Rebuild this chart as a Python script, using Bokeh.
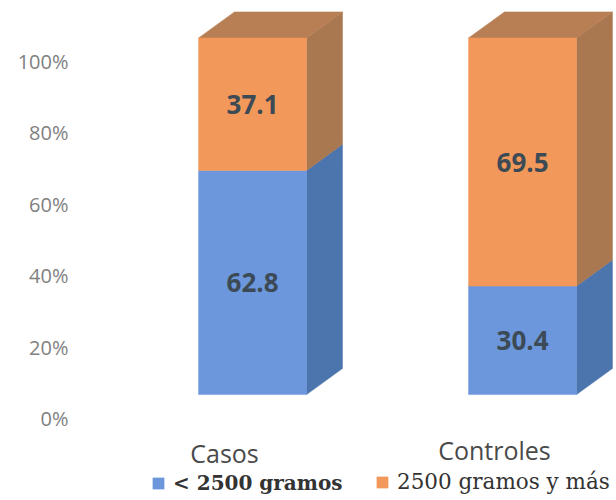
from bokeh.embed import file_html
from bokeh.models import FixedTicker, Legend, LegendItem, Range1d
from bokeh.plotting import figure
from bokeh.resources import INLINE

categories = ["Casos", "Controles"]
category_y = [-9.8, -8.8]
under_2500 = [62.8, 30.4]
over_2500 = [37.1, 69.5]
y_ticks = [0, 20, 40, 60, 80, 100]
y_labels = ["0%", "20%", "40%", "60%", "80%", "100%"]
series_names = ["< 2500 gramos", "2500 gramos y más"]

# Oblique projection of the columns, in data units
BAR_WIDTH = 0.4
BAR_SHIFT = 0.104
FLOOR = 6.7
DEPTH_X = 0.133
DEPTH_Y = 7.3

BLUE_FRONT, BLUE_SIDE = "#6c97dc", "#4c75ad"
ORANGE_FRONT, ORANGE_SIDE, ORANGE_TOP = "#f2985a", "#a97850", "#b87e54"
LABEL_COLOR = "#3c4a55"

p = figure(
    width=616, height=500, output_backend="svg", toolbar_location=None,
    min_border_left=72, min_border_right=0, min_border_top=0, min_border_bottom=0,
    x_range=Range1d(-0.563, 1.452), y_range=Range1d(-22.97, 117.09),
    outline_line_color=None, background_fill_color="white",
)
p.grid.visible = False
p.xaxis.visible = False


def face(xs, ys, color):
    return p.patch(xs, ys, fill_color=color, line_color=color, line_width=0.5)


def value_label(x, y, number):
    p.text([x], [y], text=[f"{number:.1f}"],
           text_align="center", text_baseline="middle", text_color=LABEL_COLOR,
           text_font_size="26px", text_font_style="bold", text_font={"value": "Open Sans"})


blue_faces = []
orange_faces = []
for i, (low, high) in enumerate(zip(under_2500, over_2500)):
    x0 = i + BAR_SHIFT - BAR_WIDTH / 2
    x1 = i + BAR_SHIFT + BAR_WIDTH / 2
    y0 = FLOOR
    y1 = FLOOR + low
    y2 = FLOOR + low + high

    # Side faces, then the top, then the front
    face([x1, x1 + DEPTH_X, x1 + DEPTH_X, x1],
         [y0, y0 + DEPTH_Y, y1 + DEPTH_Y, y1], BLUE_SIDE)
    face([x1, x1 + DEPTH_X, x1 + DEPTH_X, x1],
         [y1, y1 + DEPTH_Y, y2 + DEPTH_Y, y2], ORANGE_SIDE)
    face([x0, x0 + DEPTH_X, x1 + DEPTH_X, x1],
         [y2, y2 + DEPTH_Y, y2 + DEPTH_Y, y2], ORANGE_TOP)
    blue_faces.append(face([x0, x1, x1, x0], [y0, y0, y1, y1], BLUE_FRONT))
    orange_faces.append(face([x0, x1, x1, x0], [y1, y1, y2, y2], ORANGE_FRONT))

    value_label(i + BAR_SHIFT, FLOOR + low / 2, low)
    value_label(i + BAR_SHIFT, FLOOR + low + high / 2, high)

# Category names under the columns
p.text(list(range(len(categories))), category_y, text=categories,
       text_align="center", text_baseline="middle", text_color="#4a4a4a",
       text_font_size="25px", text_font={"value": "Open Sans"})

# Value axis: labels only
p.yaxis.ticker = FixedTicker(ticks=y_ticks)
p.yaxis.major_label_overrides = dict(zip(y_ticks, y_labels))
p.yaxis.axis_line_color = None
p.yaxis.major_tick_line_color = None
p.yaxis.minor_tick_line_color = None
p.yaxis.major_tick_out = 0
p.yaxis.major_tick_in = 0
p.yaxis.major_label_standoff = 4
p.yaxis.major_label_text_font = "Open Sans"
p.yaxis.major_label_text_font_size = "20px"
p.yaxis.major_label_text_color = "#808080"


def legend_entry(name, renderer, x, y, style, size):
    return Legend(
        items=[LegendItem(label=name, renderers=[renderer])],
        location=(x, y), padding=0, margin=0, spacing=0,
        glyph_width=14, glyph_height=14, label_standoff=8,
        border_line_color=None, background_fill_alpha=0,
        label_text_font="DejaVu Serif", label_text_font_size=size,
        label_text_font_style=style, label_text_color="#333333",
    )


p.add_layout(legend_entry(series_names[0], blue_faces[0], 79, 5, "bold", "20px"), "center")
p.add_layout(legend_entry(series_names[1], orange_faces[0], 303, 6, "normal", "21.5px"), "center")

open("out.html", "w").write(file_html(p, INLINE))
